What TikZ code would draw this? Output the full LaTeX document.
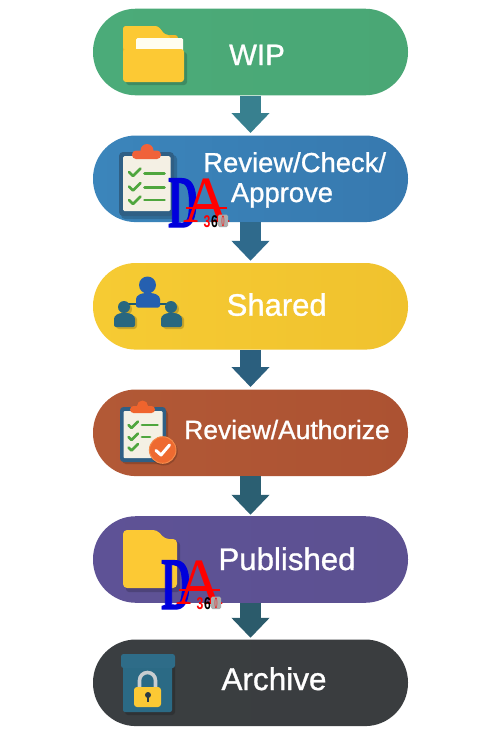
\documentclass[tikz,border=0pt]{standalone}
\usepackage{fontspec}
\setmainfont{Liberation Sans}[FakeBold=1]
\newfontfamily\plainsans{Liberation Sans}
\newfontfamily\logofont{Liberation Serif}
\newfontfamily\logobold{Liberation Serif Bold}[FakeBold=1.6]
\newfontfamily\logonum{Liberation Sans Bold}
\usetikzlibrary{arrows.meta}
\definecolor{chkg}{HTML}{4FA63E}
\definecolor{fold}{HTML}{FCC934}
\definecolor{foldb}{HTML}{F2B62A}
\definecolor{dblue}{HTML}{0000DC}
\definecolor{frameb}{HTML}{2F5F85}
\definecolor{paper}{HTML}{F4F0E4}
\definecolor{clipo}{HTML}{F0623A}
\definecolor{clipb}{HTML}{F0642D}
\definecolor{orng}{HTML}{EE6A30}
\definecolor{orngl}{HTML}{F58A4A}
\definecolor{teal}{HTML}{28677F}
\definecolor{tealk}{HTML}{1F5A6E}
\definecolor{bluep}{HTML}{2560B0}
\definecolor{boxb}{HTML}{2B6A85}
\definecolor{boxl}{HTML}{2E6C88}
\definecolor{shack}{HTML}{C9CDD0}
\definecolor{keyh}{HTML}{2B3B45}
\definecolor{arA}{HTML}{38808F}
\definecolor{arB}{HTML}{2F6A8C}
\definecolor{arC}{HTML}{2B5F7E}
\definecolor{arD}{HTML}{2B5F72}
\definecolor{arE}{HTML}{2B5B6B}
\definecolor{pgA}{HTML}{4BAB79}\definecolor{pgB}{HTML}{4AA775}
\definecolor{pbA}{HTML}{3B85BB}\definecolor{pbB}{HTML}{3779AF}
\definecolor{pyA}{HTML}{F6CB33}\definecolor{pyB}{HTML}{F0C22E}
\definecolor{prA}{HTML}{B25936}\definecolor{prB}{HTML}{AC5232}
\definecolor{ppA}{HTML}{5E5296}\definecolor{ppB}{HTML}{5C5191}
\definecolor{pdA}{HTML}{3A3E41}\definecolor{pdB}{HTML}{3A3D3F}
\tikzset{x=1pt,y=-1pt,
 pill/.style args={#1/#2}{minimum width=315pt,minimum height=86.6pt,rounded corners=43pt,inner sep=0pt,draw=none,left color=#1,right color=#2},
 lab/.style={text=white,inner sep=0pt,anchor=base},
 flow/.style={line width=21pt,-{Triangle[width=37pt,length=20pt]},draw=#1},
 soft/.style={fill=black,fill opacity=.18,draw=none},
 chk/.style={draw=chkg,line width=2.7pt,line cap=round,line join=round},
 rowline/.style={draw=chkg,line width=2.7pt,line cap=round}
}
% logo, origin at the top left of the blue letter
\newcommand{\logomark}[3]{%
 \begin{scope}[shift={(#1,#2)}]
  \node[anchor=base west,inner sep=0pt,text=dblue,font=\logobold\fontsize{74}{74}\selectfont,xscale=.56] (#3d) at (0,49) {D};
  \node[anchor=base,inner sep=0pt,text=red,font=\logofont\fontsize{66}{66}\selectfont,xscale=.98] (#3a) at (38.5,44.5) {A};
  \draw[red,line width=2.2pt] (18,30) -- (59,30);
  \fill[rounded corners=1.5pt,fill=gray!65] (50,36.5) rectangle (60,49);
  \node[anchor=base,inner sep=0pt,text=red,font=\logonum\fontsize{17}{17}\selectfont,xscale=.72] (#3t) at (39,49) {3};
  \node[anchor=base,inner sep=0pt,text=black,font=\logonum\fontsize{17}{17}\selectfont,xscale=.72] (#3s) at (46.5,49) {6};
  \node[anchor=base,inner sep=0pt,text=red,font=\plainsans\fontsize{15}{15}\selectfont,xscale=.35] (#3z) at (55,48.5) {0};
 \end{scope}}
\begin{document}
\begin{tikzpicture}
\useasboundingbox (0,0) rectangle (480,747);
\fill[white] (0,0) rectangle (480,747);
% pills
\node[pill=pgA/pgB] (wip) at (250.5,52) {};
\node[pill=pbA/pbB] (rev) at (250.5,178.8) {};
\node[pill=pyA/pyB] (sha) at (250.5,306.3) {};
\node[pill=prA/prB] (aut) at (250.5,432.8) {};
\node[pill=ppA/ppB] (pub) at (250.5,559.5) {};
\node[pill=pdA/pdB] (arc) at (250.5,682.8) {};
% arrows
\draw[flow=arA] (wip.south) -- ([yshift=2.3pt]rev.north);
\draw[flow=arB] (rev.south) -- ([yshift=2pt]sha.north);
\draw[flow=arC] (sha.south) -- ([yshift=2.3pt]aut.north);
\draw[flow=arD] (aut.south) -- ([yshift=1.2pt]pub.north);
\draw[flow=arE] (pub.south) -- ([yshift=1.5pt]arc.north);
% labels
\node[lab,font=\fontsize{29.5}{30}\selectfont] (t1) at (257,65) {WIP};
\node[lab,font=\fontsize{27.4}{30}\selectfont] (t2) at (294.7,172) {Review/Check/};
\node[lab,font=\fontsize{27.4}{30}\selectfont] (t2b) at (282,202) {Approve};
\node[lab,font=\fontsize{31}{32}\selectfont] (t3) at (276.7,315.7) {Shared};
\node[lab,font=\fontsize{26.4}{30}\selectfont] (t4) at (287,439) {Review/Authorize};
\node[lab,font=\fontsize{31.2}{32}\selectfont] (t5) at (287,570) {Published};
\node[lab,font=\fontsize{31.5}{32}\selectfont] (t6) at (274,690) {Archive};
% open folder
\fill[soft,rounded corners=3pt] (126,52) rectangle (187,85);
\fill[foldb,rounded corners=3pt] (123,60) -- (123,26) -- (158,26) -- (165,35) -- (178,35) -- (178,60) -- cycle;
\fill[fold,rounded corners=3pt] (123,50) -- (123,26) -- (158,26) -- (165,35) -- (170,35) -- (170,50) -- cycle;
\fill[white!94!yellow,rounded corners=1.5pt] (136,38) rectangle (183,52);
\fill[fold,rounded corners=3pt] (123,49) rectangle (184,82);
% clipboard one
\fill[soft,rounded corners=4pt] (121,155) rectangle (177,219);
\fill[frameb,rounded corners=4pt] (119,152) rectangle (174,216);
\fill[paper,rounded corners=1.5pt] (123,156) rectangle (170.5,211);
\fill[clipo,rounded corners=4pt] (132,150.5) rectangle (161,159);
\fill[clipo] (147,150.5) circle[radius=6.5];
\draw[chk] (129,172) -- (133,176) -- (140.5,168.5);
\draw[chk] (129,186.5) -- (133,190.5) -- (140.5,183);
\draw[chk] (129,200) -- (133,204) -- (140.5,196.5);
\draw[rowline] (144.5,173.5) -- (164.5,173.5);
\draw[rowline] (144.5,187.5) -- (164.5,187.5);
\draw[rowline] (144.5,200) -- (164.5,200);
\logomark{168}{178}{la}
% shared people
\draw[tealk,line width=2.6pt] (124,304) -- (171,304);
\fill[soft] (126,309) circle[radius=6];
\fill[soft] (173,309) circle[radius=6];
\fill[soft,rounded corners=3pt] (116,329) -- (116,322) .. controls (116,316) and (121,315) .. (126,315) .. controls (131,315) and (137,316) .. (137,322) -- (137,329) -- cycle;
\fill[soft,rounded corners=3pt] (163,329) -- (163,322) .. controls (163,316) and (168,315) .. (173,315) .. controls (178,315) and (184,316) .. (184,322) -- (184,329) -- cycle;
\fill[teal] (124,307) circle[radius=6];
\fill[teal] (171,307) circle[radius=6];
\fill[teal,rounded corners=2pt] (114,327) -- (114,321) .. controls (114,315) and (119,313) .. (124.5,313) .. controls (130,313) and (135,315) .. (135,321) -- (135,327) -- cycle;
\fill[teal,rounded corners=2pt] (161,327) -- (161,321) .. controls (161,315) and (166,313) .. (171.5,313) .. controls (177,313) and (182,315) .. (182,321) -- (182,327) -- cycle;
\fill[bluep] (147.5,285) circle[radius=8.5];
\fill[bluep,rounded corners=2pt] (136,307.5) -- (136,301) .. controls (136,295) and (142,293) .. (148,293) .. controls (154,293) and (160,295) .. (160,301) -- (160,307.5) -- cycle;
% clipboard two
\fill[soft,rounded corners=4pt] (122,410) rectangle (168,464);
\fill[frameb,rounded corners=3.5pt] (120,407) rectangle (166,462);
\fill[paper,rounded corners=1pt] (123.5,411) rectangle (162.5,458);
\fill[clipb,rounded corners=3.5pt] (130,406) rectangle (155,413);
\fill[clipb] (142.5,406) circle[radius=5.5];
\draw[chk] (128.5,425) -- (131.5,428) -- (138,421.5);
\draw[chk] (128.5,437) -- (131.5,440) -- (138,433.5);
\draw[chk] (128.5,447.5) -- (131.5,450.5) -- (138,444);
\draw[rowline] (142,425) -- (157.5,425);
\draw[rowline] (142,437) -- (150,437);
\fill[soft] (163.7,451.5) circle[radius=14];
\filldraw[fill=orng,draw=orngl,line width=1pt] (162.7,450) circle[radius=13.3];
\draw[white,line width=3pt,line cap=round,line join=round] (156,450.5) -- (161,455) -- (169.5,445);
% flat folder
\fill[soft,rounded corners=3pt] (126,534) -- (126,592) -- (180,592) -- (180,542) -- cycle;
\fill[fold,rounded corners=4pt] (123,530) -- (157,530) -- (165,539) -- (177,539) -- (177,588) -- (123,588) -- cycle;
\logomark{161}{560}{lb}
% archive box
\fill[soft,rounded corners=3pt] (125,660) rectangle (175,715);
\fill[boxb,rounded corners=2pt] (123,664) rectangle (172,712);
\fill[boxl,rounded corners=2.5pt] (121,654) rectangle (175,668);
\draw[shack,line width=3.6pt] (139.5,689) -- (139.5,680.5) arc[start angle=180,end angle=360,radius=8] -- (155.5,689);
\fill[fold,rounded corners=3pt] (134,687) rectangle (161,707);
\fill[keyh] (148,695) circle[radius=3];
\fill[keyh] (146.9,695) rectangle (149.1,702);
\end{tikzpicture}
\end{document}
